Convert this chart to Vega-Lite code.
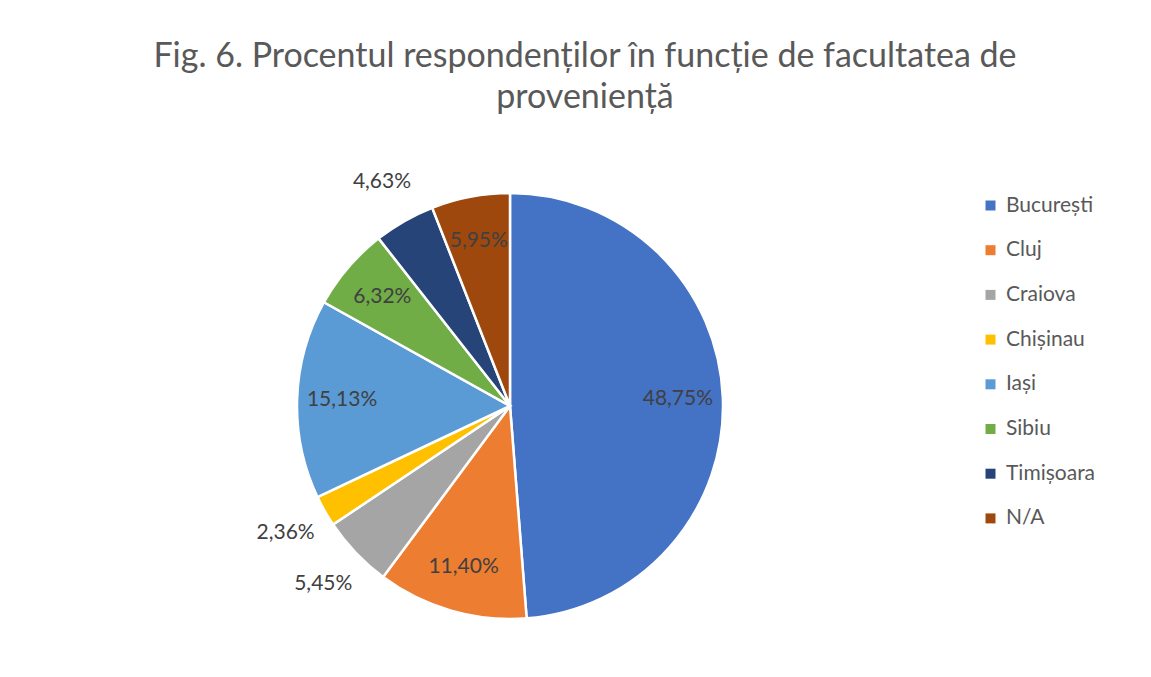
{
  "$schema": "https://vega.github.io/schema/vega-lite/v6.json",
  "autosize": "none",
  "width": 440,
  "height": 440,
  "padding": {"left": 290, "top": 186, "right": 421, "bottom": 51},
  "background": "white",
  "title": {
    "text": ["Fig. 6. Procentul respondenților în funcție de facultatea de", "proveniență"],
    "font": "Lato",
    "fontSize": 34,
    "fontWeight": "normal",
    "color": "#595959",
    "lineHeight": 41,
    "anchor": "middle",
    "frame": "group",
    "dx": 75,
    "offset": 26
  },
  "data": {
    "values": [
      {"idx": 1, "facultate": "București", "pct": 48.75, "label": "48,75%"},
      {"idx": 2, "facultate": "Cluj", "pct": 11.40, "label": "11,40%"},
      {"idx": 3, "facultate": "Craiova", "pct": 5.45, "label": "5,45%"},
      {"idx": 4, "facultate": "Chișinau", "pct": 2.36, "label": "2,36%"},
      {"idx": 5, "facultate": "Iași", "pct": 15.13, "label": "15,13%"},
      {"idx": 6, "facultate": "Sibiu", "pct": 6.32, "label": "6,32%"},
      {"idx": 7, "facultate": "Timișoara", "pct": 4.63, "label": "4,63%"},
      {"idx": 8, "facultate": "N/A", "pct": 5.95, "label": "5,95%"}
    ]
  },
  "encoding": {
    "theta": {"field": "pct", "type": "quantitative", "stack": true},
    "order": {"field": "idx", "type": "quantitative"}
  },
  "layer": [
    {
      "mark": {"type": "arc", "outerRadius": 213, "stroke": "white", "strokeWidth": 2.5},
      "encoding": {
        "color": {
          "field": "facultate",
          "type": "nominal",
          "sort": ["București", "Cluj", "Craiova", "Chișinau", "Iași", "Sibiu", "Timișoara", "N/A"],
          "scale": {
            "domain": ["București", "Cluj", "Craiova", "Chișinau", "Iași", "Sibiu", "Timișoara", "N/A"],
            "range": ["#4472C4", "#ED7D31", "#A5A5A5", "#FFC000", "#5B9BD5", "#70AD47", "#264478", "#9E480E"]
          },
          "legend": {
            "title": null,
            "orient": "none",
            "legendX": 690,
            "legendY": 9,
            "symbolType": "square",
            "symbolSize": 100,
            "symbolStrokeWidth": 0,
            "labelFont": "Lato",
            "labelFontSize": 21,
            "labelColor": "#595959",
            "labelOffset": 5,
            "rowPadding": 22.7
          }
        }
      }
    },
    {
      "mark": {"type": "text", "radius": 168, "font": "Lato", "fontSize": 21, "color": "#404040"},
      "encoding": {
        "text": {
          "condition": {"test": "indexof(['Craiova','Chișinau','Timișoara'], datum.facultate) < 0", "field": "label"},
          "value": ""
        }
      }
    },
    {
      "mark": {"type": "text", "radius": 258, "font": "Lato", "fontSize": 21, "color": "#404040"},
      "encoding": {
        "text": {
          "condition": {"test": "indexof(['Craiova','Chișinau','Timișoara'], datum.facultate) >= 0", "field": "label"},
          "value": ""
        }
      }
    }
  ],
  "config": {"view": {"stroke": null}}
}
